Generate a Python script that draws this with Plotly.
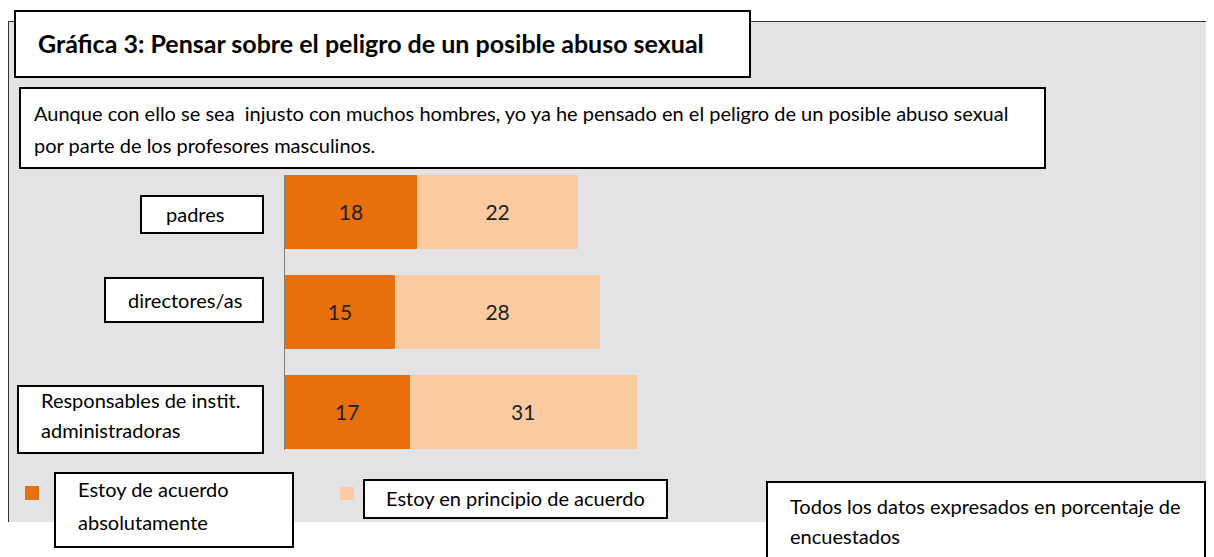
import plotly.graph_objects as go

# ---- data ----
categories = ["padres", "directores/as", "Responsables de instit.<br>administradoras"]
category_lines = [["padres"], ["directores/as"], ["Responsables de instit.", "administradoras"]]
absolutamente = [18, 15, 17]
en_principio = [22, 28, 31]
series_names = ["Estoy de acuerdo absolutamente", "Estoy en principio de acuerdo"]
title_text = "Gráfica 3: Pensar sobre el peligro de un posible abuso sexual"
subtitle_lines = [
    "Aunque con ello se sea&nbsp; injusto con muchos hombres, yo ya he pensado en el peligro de un posible abuso sexual",
    "por parte de los profesores masculinos.",
]
note_lines = ["Todos los datos expresados en porcentaje de", "encuestados"]

# ---- style ----
# the page body has an 8px margin, so the figure is laid out in page pixels minus that offset
OX, OY = 8, 8
W, H = 1214 - OX, 557 - OY
ORANGE = "#E8700A"
LIGHT = "#FACBA1"
PANEL = "#E3E3E5"
FONT = "Lato"
TXT = 20

def px(x):
    return (x - OX) / W

def py(y):
    return 1 - (y - OY) / H

fig = go.Figure()
fig.add_trace(go.Bar(
    y=categories, x=absolutamente, orientation="h", name=series_names[0],
    marker=dict(color=ORANGE, line=dict(width=0)), width=0.74,
    text=absolutamente, textposition="inside", insidetextanchor="middle",
    textfont=dict(family=FONT, size=21, color="#222222"),
))
fig.add_trace(go.Bar(
    y=categories, x=en_principio, orientation="h", name=series_names[1],
    marker=dict(color=LIGHT, line=dict(width=0)), width=0.74,
    text=en_principio, textposition="inside", insidetextanchor="middle",
    textfont=dict(family=FONT, size=21, color="#222222"),
))

shapes = []
annotations = []

# gray panel with left and top border
shapes.append(dict(type="rect", xref="paper", yref="paper", x0=px(8), x1=1.0, y0=py(522), y1=py(21),
                   fillcolor=PANEL, line=dict(width=0), layer="below"))
shapes.append(dict(type="line", xref="paper", yref="paper", x0=px(8.5), x1=px(8.5), y0=py(522), y1=py(21),
                   line=dict(color="#333333", width=1), layer="below"))
shapes.append(dict(type="line", xref="paper", yref="paper", x0=px(8), x1=1.0, y0=py(21.5), y1=py(21.5),
                   line=dict(color="#333333", width=1), layer="below"))

def box(x0, y0, x1, y1):
    shapes.append(dict(type="rect", xref="paper", yref="paper", x0=px(x0), x1=px(x1), y0=py(y1), y1=py(y0),
                       fillcolor="white", line=dict(color="black", width=2), layer="above"))

def txt(x, y, s, size=TXT, bold=False):
    annotations.append(dict(xref="paper", yref="paper", x=px(x), y=py(y), xanchor="left", yanchor="middle",
                            text=("<b>%s</b>" % s) if bold else s, showarrow=False,
                            font=dict(family=FONT, size=size, color="black")))

def square(x0, y0, x1, y1, color):
    shapes.append(dict(type="rect", xref="paper", yref="paper", x0=px(x0), x1=px(x1), y0=py(y1), y1=py(y0),
                       fillcolor=color, line=dict(width=0), layer="above"))

# title
box(15, 11, 750, 77)
txt(36, 43, title_text, size=25, bold=True)

# subtitle
box(20, 88, 1045, 168)
txt(32, 113, subtitle_lines[0])
txt(32, 145, subtitle_lines[1])

# category label boxes
label_boxes = [(141, 196, 263, 233), (105, 278, 263, 322), (18, 386, 263, 453)]
label_text_pos = [[(164, 214)], [(126, 300)], [(39, 400)], ]
label_text_pos[2].append((39, 430))
for b, lines, poss in zip(label_boxes, category_lines, label_text_pos):
    box(*b)
    for s, (x, y) in zip(lines, poss):
        txt(x, y, s)

# legend
square(25, 486, 39, 500, ORANGE)
square(340, 487, 354, 500, LIGHT)
box(55, 473, 293, 547)
txt(76, 489, "Estoy de acuerdo")
txt(76, 522, "absolutamente")
box(364, 480, 667, 518)
txt(384, 498, series_names[1])

# note
box(767, 482, 1205, 575)
txt(788, 506, note_lines[0])
txt(788, 536, note_lines[1])

fig.update_layout(
    width=W, height=H,
    margin=dict(l=0, r=0, t=0, b=0),
    paper_bgcolor="white", plot_bgcolor="rgba(0,0,0,0)",
    barmode="stack", bargap=0.26, showlegend=False,
    font=dict(family=FONT),
    shapes=shapes, annotations=annotations,
    xaxis=dict(domain=[px(285), 1.0], range=[0, (1214 - 285) / 7.33], showgrid=False, zeroline=False,
               showticklabels=False, ticks="", showline=False),
    yaxis=dict(domain=[py(450), py(175)], range=[2.385, -0.37], type="category",
               categoryorder="array", categoryarray=categories,
               showgrid=False, zeroline=False, showticklabels=False, ticks="",
               showline=True, linecolor="#7F7F7F", linewidth=1),
)

fig.write_html("out.html")
